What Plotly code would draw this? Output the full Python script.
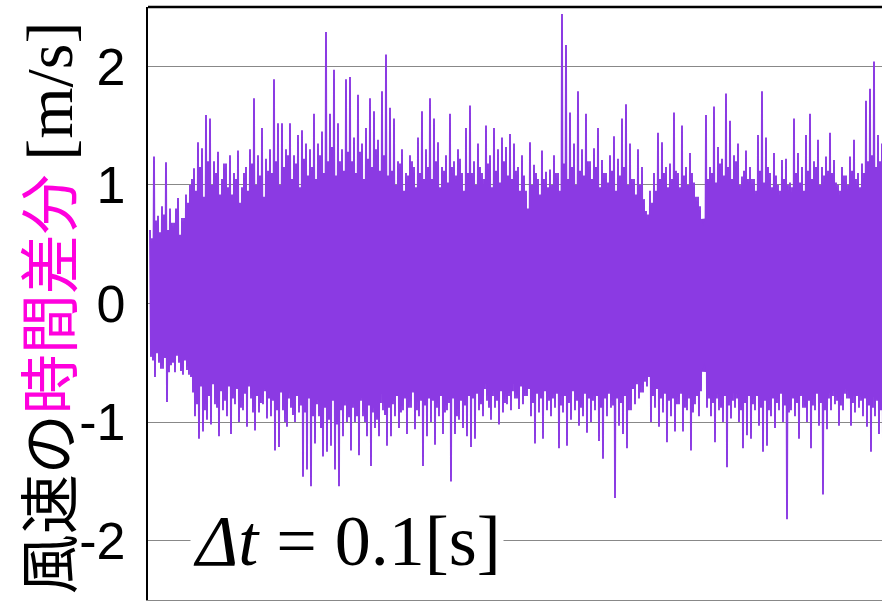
import plotly.graph_objects as go

# Highest / lowest peak of the wind-speed time difference in each ~4 px column of the original
upper = [
    0.62, 1.24, 0.74, 0.82, 1.19, 0.80, 0.68, 0.89, 0.72, 0.92,
    1.00, 1.14, 1.36, 1.31, 1.59, 1.56, 1.20, 1.28, 1.05, 1.18,
    1.25, 1.10, 1.29, 0.98, 1.15, 1.30, 1.73, 1.25, 1.48, 1.22,
    1.30, 1.89, 1.52, 1.52, 1.30, 1.52, 1.25, 1.42, 1.46, 1.35,
    1.30, 1.60, 1.35, 1.45, 2.29, 1.60, 1.97, 1.52, 1.30, 1.89,
    1.91, 1.40, 1.76, 1.35, 1.48, 1.73, 1.62, 1.38, 1.79, 2.10,
    1.65, 1.56, 1.20, 1.30, 1.10, 1.25, 1.15, 1.40, 1.62, 1.30,
    1.73, 1.56, 1.36, 1.15, 1.25, 1.60, 1.20, 1.30, 1.10, 1.48,
    1.67, 1.20, 1.35, 1.10, 1.50, 1.25, 1.48, 1.30, 1.40, 1.32,
    1.43, 1.35, 1.15, 1.25, 0.95, 1.36, 1.17, 1.05, 1.29, 1.11,
    1.13, 1.25, 1.10, 2.44, 2.18, 1.61, 1.35, 1.79, 1.30, 1.60,
    1.20, 1.31, 1.48, 1.21, 1.10, 1.25, 1.41, 1.22, 1.56, 1.68,
    1.35, 1.05, 1.30, 1.15, 0.78, 0.95, 1.10, 1.44, 1.36, 1.15,
    1.18, 1.61, 1.10, 1.50, 1.15, 1.27, 1.02, 0.90, 0.70, 1.59,
    1.15, 1.66, 1.32, 1.22, 1.77, 1.54, 1.25, 1.35, 1.07, 1.29,
    1.15, 1.05, 1.42, 1.79, 1.40, 1.10, 1.27, 1.00, 1.21, 1.22,
    1.02, 1.56, 1.27, 1.15, 1.42, 1.60, 1.20, 1.38, 1.15, 1.24,
    1.44, 1.21, 1.00, 1.15, 1.08, 1.24, 1.38, 1.10, 1.18, 1.71,
    1.81, 2.04, 1.42, 1.35,
]
lower = [
    -0.45, -0.62, -0.50, -0.55, -0.83, -0.52, -0.58, -0.50, -0.60, -0.56,
    -0.62, -0.95, -1.14, -1.08, -0.98, -1.02, -0.85, -1.12, -0.90, -0.95,
    -1.10, -0.85, -1.00, -0.90, -1.04, -0.80, -1.07, -0.92, -0.85, -0.97,
    -0.95, -1.24, -1.21, -0.90, -1.04, -0.88, -1.00, -0.92, -1.46, -1.40,
    -1.54, -1.18, -0.95, -1.29, -1.25, -1.20, -1.40, -1.54, -1.12, -1.00,
    -1.24, -1.00, -1.28, -0.95, -1.12, -1.37, -1.05, -1.12, -0.90, -1.20,
    -1.12, -0.95, -1.05, -0.90, -1.10, -0.88, -1.06, -0.95, -1.37, -1.12,
    -1.00, -1.19, -0.95, -1.10, -0.90, -1.50, -1.10, -0.98, -1.05, -1.12,
    -1.21, -1.14, -0.90, -0.95, -0.82, -0.98, -0.88, -1.02, -0.92, -0.85,
    -0.90, -0.80, -0.89, -0.85, -0.78, -0.95, -1.18, -0.92, -1.14, -0.90,
    -0.95, -0.88, -1.22, -0.92, -1.20, -0.98, -0.90, -1.03, -0.95, -1.09,
    -1.00, -0.90, -1.16, -1.31, -0.95, -0.88, -1.64, -1.03, -1.10, -1.22,
    -0.90, -0.85, -0.80, -0.75, -0.70, -1.00, -0.88, -1.04, -0.92, -1.17,
    -0.95, -1.08, -0.85, -1.08, -0.90, -1.24, -0.85, -0.95, -0.55, -0.88,
    -0.95, -1.17, -0.90, -1.00, -1.38, -0.97, -0.88, -1.00, -1.22, -1.11,
    -1.14, -0.90, -1.03, -1.25, -1.20, -0.95, -1.05, -0.90, -1.00, -1.82,
    -0.90, -0.95, -1.14, -0.88, -1.00, -1.22, -0.90, -1.03, -1.61, -1.06,
    -0.90, -0.85, -1.03, -0.90, -0.80, -1.03, -0.92, -0.88, -0.95, -1.04,
    -1.25, -0.95, -1.10, -1.27,
]
# Secondary (typical) peaks in the same columns
upper2 = [
    0.55, 0.70, 0.60, 0.75, 0.62, 0.68, 0.80, 0.58, 0.72, 0.85,
    1.05, 0.95, 1.15, 0.90, 1.20, 1.00, 1.10, 0.92, 1.18, 0.98,
    0.92, 1.05, 0.85, 1.10, 0.95, 1.18, 1.00, 1.08, 0.90, 1.12,
    1.10, 1.20, 1.00, 1.15, 1.25, 1.05, 1.18, 0.98, 1.22, 1.08,
    1.15, 1.05, 1.25, 1.10, 1.20, 1.32, 1.08, 1.20, 1.12, 1.28,
    1.20, 1.10, 1.28, 1.05, 1.22, 1.15, 1.30, 1.12, 1.25, 1.08,
    1.12, 1.00, 1.18, 0.95, 1.08, 1.20, 0.98, 1.10, 1.05, 1.15,
    1.05, 1.20, 0.98, 1.12, 1.02, 1.15, 1.08, 1.22, 0.95, 1.10,
    1.10, 1.00, 1.15, 1.05, 1.18, 0.98, 1.12, 1.02, 1.20, 1.08,
    1.05, 1.12, 0.95, 1.08, 0.80, 1.00, 1.10, 0.92, 1.05, 0.98,
    1.00, 1.10, 0.95, 1.18, 1.05, 1.15, 1.00, 1.12, 1.08, 1.20,
    1.05, 1.15, 0.98, 1.10, 1.02, 1.12, 0.95, 1.08, 1.15, 1.00,
    1.05, 0.92, 1.00, 0.88, 0.75, 0.85, 0.95, 1.05, 1.10, 0.98,
    1.05, 1.12, 0.98, 1.08, 1.00, 1.10, 0.90, 0.82, 0.68, 1.05,
    1.10, 1.02, 1.18, 1.08, 1.15, 1.05, 1.20, 1.00, 1.12, 1.05,
    1.05, 0.95, 1.12, 1.02, 1.15, 0.98, 1.08, 0.95, 1.05, 1.00,
    0.98, 1.10, 1.02, 0.95, 1.12, 1.05, 1.15, 1.00, 1.08, 1.12,
    1.10, 1.02, 0.95, 1.08, 1.00, 1.12, 1.05, 0.98, 1.10, 1.20,
    1.25, 1.15, 1.20, 1.30,
]
lower2 = [
    -0.48, -0.42, -0.55, -0.46, -0.58, -0.50, -0.44, -0.57, -0.48, -0.60,
    -0.75, -0.85, -0.70, -0.90, -0.78, -0.68, -0.88, -0.74, -0.82, -0.70,
    -0.80, -0.72, -0.88, -0.76, -0.70, -0.92, -0.78, -0.84, -0.74, -0.80,
    -0.82, -0.90, -0.75, -1.00, -0.80, -0.94, -0.78, -0.86, -0.92, -0.80,
    -0.95, -0.85, -1.05, -0.88, -0.98, -0.82, -1.02, -0.90, -0.86, -0.96,
    -0.88, -0.95, -0.82, -1.00, -0.86, -0.92, -0.98, -0.84, -0.94, -0.88,
    -0.85, -0.78, -0.92, -0.80, -0.88, -0.75, -0.90, -0.82, -0.86, -0.80,
    -0.82, -0.88, -0.78, -0.92, -0.84, -0.80, -0.95, -0.82, -0.86, -0.78,
    -0.80, -0.76, -0.85, -0.72, -0.88, -0.78, -0.82, -0.74, -0.84, -0.78,
    -0.74, -0.80, -0.70, -0.78, -0.72, -0.84, -0.76, -0.80, -0.74, -0.82,
    -0.80, -0.76, -0.86, -0.78, -0.84, -0.74, -0.82, -0.88, -0.76, -0.80,
    -0.82, -0.78, -0.88, -0.80, -0.76, -0.86, -0.80, -0.84, -0.78, -0.90,
    -0.72, -0.68, -0.75, -0.66, -0.62, -0.78, -0.72, -0.80, -0.76, -0.82,
    -0.80, -0.85, -0.76, -0.88, -0.80, -0.92, -0.78, -0.74, -0.52, -0.80,
    -0.84, -0.80, -0.88, -0.78, -0.86, -0.82, -0.80, -0.90, -0.84, -0.78,
    -0.85, -0.78, -0.88, -0.82, -0.90, -0.80, -0.84, -0.76, -0.86, -0.92,
    -0.80, -0.84, -0.78, -0.88, -0.82, -0.86, -0.76, -0.84, -0.90, -0.80,
    -0.78, -0.82, -0.86, -0.76, -0.80, -0.84, -0.78, -0.82, -0.80, -0.86,
    -0.88, -0.82, -0.90, -0.92,
]

# Solid core of the signal
core_cols = [0, 9, 11, 20, 40, 60, 80, 100, 120, 140, 160, 183]
core_upper = [0.45, 0.50, 0.70, 0.72, 0.78, 0.75, 0.72, 0.72, 0.65, 0.72, 0.72, 0.75]
core_lower = [-0.38, -0.42, -0.56, -0.58, -0.64, -0.62, -0.58, -0.58, -0.54, -0.58, -0.58, -0.62]

y_ticks = [-2, -1, 0, 1, 2]
y_tick_labels = ["-2", "-1", "0", "1", "2"]

PURPLE = "#8b3ae3"

# interleave the peaks into one signal trace, as in the raw time series
sig_x, sig_y = [], []
for i in range(len(upper)):
    sig_x += [i, i + 0.25, i + 0.5, i + 0.75]
    sig_y += [upper[i], lower[i], upper2[i], lower2[i]]

fig = go.Figure()
fig.add_trace(go.Scatter(x=core_cols, y=core_upper, mode="lines",
                         line=dict(width=0, color=PURPLE), hoverinfo="skip"))
fig.add_trace(go.Scatter(x=core_cols, y=core_lower, mode="lines", fill="tonexty",
                         fillcolor=PURPLE, line=dict(width=0, color=PURPLE), hoverinfo="skip"))
fig.add_trace(go.Scatter(x=sig_x, y=sig_y, mode="lines",
                         line=dict(width=1.9, color=PURPLE)))

fig.update_layout(
    width=882, height=601,
    margin=dict(l=148, r=0, t=7, b=1),
    plot_bgcolor="white", paper_bgcolor="white",
    showlegend=False,
    xaxis=dict(range=[-0.5, 183], showgrid=False, zeroline=False, showticklabels=False,
               ticks="", showline=True, linecolor="#888888", linewidth=1),
    yaxis=dict(range=[-2.5, 2.5], tickvals=y_ticks, ticktext=y_tick_labels,
               showgrid=True, gridcolor="#888888", gridwidth=1.2, zeroline=False,
               showline=True, linecolor="black", linewidth=2.3, ticks="",
               ticklabelstandoff=10,
               tickfont=dict(family="Liberation Sans", size=52, color="black")),
    shapes=[dict(type="line", xref="paper", yref="paper", x0=0, x1=1, y0=1, y1=1,
                 line=dict(color="black", width=2.5))],
    annotations=[
        dict(text="風速の<span style='color:#ff00dd'>時間差分</span> "
                  "<span style='font-family:Liberation Serif;font-size:66px'>[m/s]</span>",
             textangle=-90, xref="paper", yref="paper",
             x=(45 - 148) / 734, y=0.492, xanchor="center", yanchor="middle",
             showarrow=False,
             font=dict(family="Noto Sans CJK JP", size=60, color="black")),
        dict(text="<i>Δt</i> = 0.1[s]", xref="paper", yref="y",
             x=(347 - 148) / 734, y=-2, xanchor="center", yanchor="middle",
             showarrow=False, bgcolor="white", borderpad=2,
             font=dict(family="Liberation Serif", size=72, color="black")),
    ],
)

fig.write_html("out.html")
